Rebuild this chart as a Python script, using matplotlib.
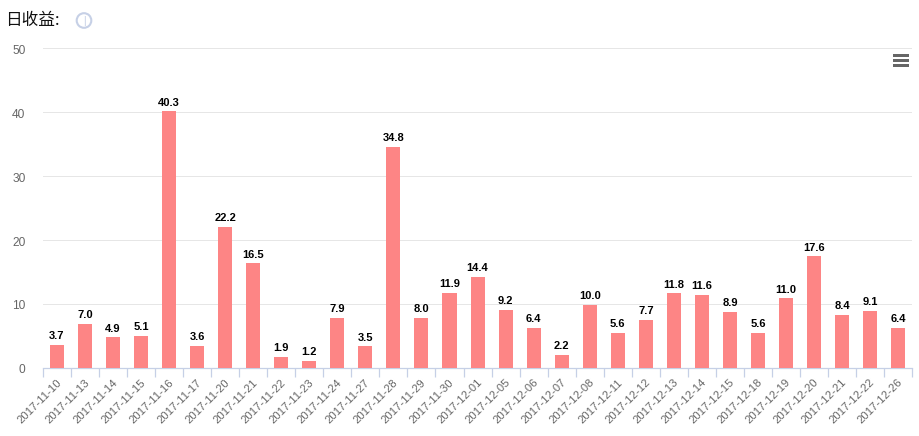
import matplotlib
matplotlib.use('Agg')
import matplotlib.pyplot as plt
from matplotlib.patches import Circle, Rectangle
from matplotlib.transforms import Affine2D

plt.rcParams['font.family'] = ['Liberation Sans', 'DejaVu Sans']

dates = ['2017-11-10', '2017-11-13', '2017-11-14', '2017-11-15', '2017-11-16', '2017-11-17',
         '2017-11-20', '2017-11-21', '2017-11-22', '2017-11-23', '2017-11-24', '2017-11-27',
         '2017-11-28', '2017-11-29', '2017-11-30', '2017-12-01', '2017-12-05', '2017-12-06',
         '2017-12-07', '2017-12-08', '2017-12-11', '2017-12-12', '2017-12-13', '2017-12-14',
         '2017-12-15', '2017-12-18', '2017-12-19', '2017-12-20', '2017-12-21', '2017-12-22',
         '2017-12-26']
values = [3.7, 7.0, 4.9, 5.1, 40.3, 3.6, 22.2, 16.5, 1.9, 1.2, 7.9, 3.5, 34.8, 8.0, 11.9, 14.4,
          9.2, 6.4, 2.2, 10.0, 5.6, 7.7, 11.8, 11.6, 8.9, 5.6, 11.0, 17.6, 8.4, 9.1, 6.4]
yticks = [0, 10, 20, 30, 40, 50]

W, H = 920, 436
fig = plt.figure(figsize=(W / 100, H / 100), dpi=100)
# axes placed by pixels: x 42.8..912.3, y 48.5..367.7
ax = fig.add_axes([42.8 / W, 1 - 367.7 / H, 869.5 / W, 319.2 / H])

x = range(len(dates))
bars = ax.bar(x, values, width=0.5, color='#fd8585', zorder=3)
# bars in the original sit about a pixel below their nominal height
for b in bars:
    b.set_transform(ax.transData + Affine2D().translate(0, -1))
for i, v in zip(x, values):
    ax.annotate('%.1f' % v, (i, v), xytext=(0, 2), textcoords='offset points', ha='center', va='bottom',
                fontsize=8, fontweight='bold', color='black', zorder=4)

ax.set_xlim(-0.5, len(dates) - 0.5)
ax.set_ylim(0, 50)
ax.set_yticks(yticks)
ax.yaxis.grid(True, color='#e6e6e6', linewidth=0.72)
ax.set_axisbelow(True)
for s in ['top', 'right', 'left']:
    ax.spines[s].set_visible(False)
ax.spines['bottom'].set_color('#c6d0e6')
ax.spines['bottom'].set_linewidth(0.9)
ax.tick_params(axis='y', length=0, pad=12.5, labelsize=8.6, labelcolor='#666666')
for lab in ax.get_yticklabels():
    lab.set_transform(lab.get_transform() + Affine2D().translate(0, -1))

# ticks sit on category edges, labels on category centres
ax.set_xticks([i - 0.5 for i in range(len(dates) + 1)])
ax.set_xticklabels([])
ax.tick_params(axis='x', length=6.8, width=0.9, color='#c6d0e6')
for i, d in zip(x, dates):
    ax.annotate(d, (i, 0), xytext=(-0.5, -7), textcoords='offset points', rotation=45,
                rotation_mode='anchor', ha='right', va='top', fontsize=8.2, color='#666666',
                annotation_clip=False)

fig.text(5 / W, 1 - 21 / H, '日收益:', fontsize=12, color='#111111', va='center',
         family=['Noto Sans CJK SC', 'DejaVu Sans'])

# info icon
fig.add_artist(Circle((84, H - 20.5), 7.3, transform=None, fill=False, edgecolor='#c6d0e6', linewidth=1.5))
fig.text(84 / W, 1 - 20.5 / H, '|', fontsize=7.5, color='#c6d0e6', ha='center', va='center')

# menu icon
for yp in (55.5, 60.5, 65.5):
    fig.add_artist(Rectangle((893, H - yp - 1.5), 16, 3, transform=None, color='#666666', linewidth=0))

fig.savefig('out.png', dpi=100)
